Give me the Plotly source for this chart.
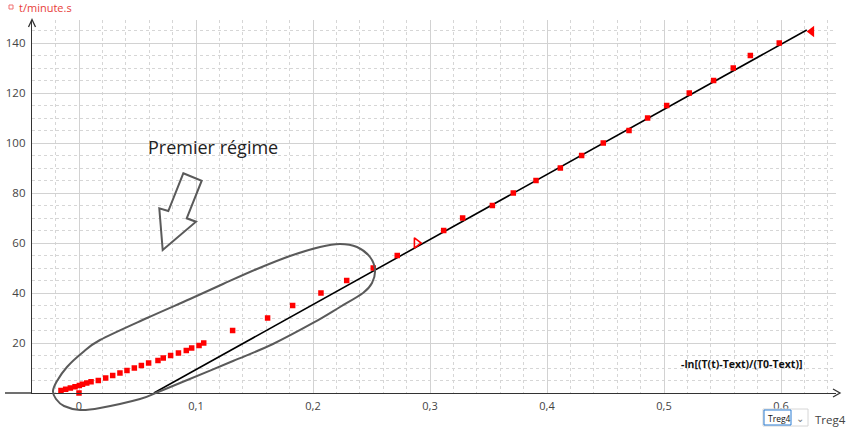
import plotly.graph_objects as go

# ---------------- data ----------------
# first regime (small steps)
x_first = [-0.0154, -0.0114, -0.0074, -0.0034, 0.0003, 0.0030, 0.0066, 0.0103, 0.0165,
           0.0228, 0.0288, 0.0350, 0.0410, 0.0473, 0.0533, 0.0595, 0.0675, 0.0720,
           0.0783, 0.0850, 0.0917, 0.0963, 0.1026, 0.1066]
t_first = [1, 1.5, 2, 2.5, 3, 3.5, 4, 4.5, 5, 6, 7, 8, 9, 10, 11, 12, 13, 14, 15, 16,
           17, 18, 19, 20]
x_origin = [0.0]
t_origin = [0.0]
# second regime
x_second = [0.1313, 0.1612, 0.1826, 0.2068, 0.2288, 0.2515, 0.2720, 0.3117, 0.3279,
            0.3533, 0.3712, 0.3906, 0.4114, 0.4296, 0.4481, 0.4701, 0.4860, 0.5023,
            0.5216, 0.5424, 0.5592, 0.5738, 0.5985]
t_second = [25, 30, 35, 40, 45, 50, 55, 65, 70, 75, 80, 85, 90, 95, 100, 105, 110, 115,
            120, 125, 130, 135, 140]
# cursor markers
x_cursor_a = [0.2886]
t_cursor_a = [60]
x_cursor_b = [0.6262]
t_cursor_b = [144.6]
# regression line
x_fit = [0.064, 0.622]
t_fit = [0.0, 145.2]

x_tick_vals = [0, 0.1, 0.2, 0.3, 0.4, 0.5, 0.6]
x_tick_text = ["0", "0,1", "0,2", "0,3", "0,4", "0,5", "0,6"]
y_tick_vals = [20, 40, 60, 80, 100, 120, 140]
y_tick_text = ["20", "40", "60", "80", "100", "120", "140"]

# ---------------- layout geometry ----------------
W, H = 848, 427
L, R, T, B = 32, 12, 20, 34
PW = W - L - R
PH = H - T - B


def px(xp):
    return (xp - L) / PW


def py(yp):
    return (H - B - yp) / PH


FONT = "Open Sans"
RED = "#ff0000"

fig = go.Figure()

fig.add_trace(go.Scatter(x=x_fit, y=t_fit, mode="lines",
                         line=dict(color="black", width=1.6),
                         hoverinfo="skip", showlegend=False))
for xs, ys in [(x_first, t_first), (x_origin, t_origin), (x_second, t_second)]:
    fig.add_trace(go.Scatter(x=xs, y=ys, mode="markers", cliponaxis=False,
                             marker=dict(symbol="square", size=5.5, color=RED,
                                         line=dict(width=0)),
                             showlegend=False))
fig.add_trace(go.Scatter(x=x_cursor_a, y=t_cursor_a, mode="markers", cliponaxis=False,
                         marker=dict(symbol="triangle-right-open", size=9, color=RED,
                                     line=dict(width=1.6, color=RED)),
                         showlegend=False))
fig.add_trace(go.Scatter(x=x_cursor_b, y=t_cursor_b, mode="markers", cliponaxis=False,
                         marker=dict(symbol="triangle-left", size=10, color=RED,
                                     line=dict(width=0)),
                         showlegend=False))

# ---------------- shapes ----------------
shapes = []

# ellipse (hand drawn) via Catmull-Rom
ell = [(53, 391), (57, 381), (67, 367), (82, 353), (100, 340), (147, 318),
       (190, 299), (223, 284), (257, 269), (290, 256), (320, 247), (340, 244), (357, 247),
       (370, 257), (375, 270), (372, 283), (363, 293), (340, 307), (313, 323), (273, 344),
       (233, 361), (180, 383), (158, 392), (140, 399), (100, 408), (80, 410), (64, 406),
       (56, 399)]
n = len(ell)
pts = [(px(a), py(b)) for a, b in ell]
path = "M %.5f,%.5f" % pts[0]
for i in range(n):
    p0 = pts[(i - 1) % n]
    p1 = pts[i]
    p2 = pts[(i + 1) % n]
    p3 = pts[(i + 2) % n]
    c1 = (p1[0] + (p2[0] - p0[0]) / 6, p1[1] + (p2[1] - p0[1]) / 6)
    c2 = (p2[0] - (p3[0] - p1[0]) / 6, p2[1] - (p3[1] - p1[1]) / 6)
    path += " C %.5f,%.5f %.5f,%.5f %.5f,%.5f" % (c1 + c2 + p2)
path += " Z"
shapes.append(dict(type="path", xref="paper", yref="paper", path=path,
                   line=dict(color="#5a5a5a", width=2)))

# block arrow
arr = [(183.3, 173.3), (201.7, 180.7), (186.7, 218.3), (196, 221.7), (162.7, 250),
       (159.3, 208.3), (168.3, 211)]
apath = "M " + " L ".join("%.5f,%.5f" % (px(a), py(b)) for a, b in arr) + " Z"
shapes.append(dict(type="path", xref="paper", yref="paper", path=apath,
                   line=dict(color="#5a5a5a", width=2)))

# x axis line extension to the left + axis arrows
shapes.append(dict(type="line", xref="paper", yref="paper", x0=px(5), x1=px(L),
                   y0=0, y1=0, line=dict(color="#333333", width=1.4)))
shapes.append(dict(type="path", xref="paper", yref="paper",
                   path="M %f,%f L %f,%f L %f,%f" % (px(28.5), py(27), px(32), py(19.5),
                                                     px(35.5), py(27)),
                   line=dict(color="#333333", width=1.3)))
shapes.append(dict(type="path", xref="paper", yref="paper",
                   path="M %f,%f L %f,%f L %f,%f" % (px(833), py(389), px(840), py(393),
                                                     px(833), py(397)),
                   line=dict(color="#333333", width=1.3)))

# legend icon
shapes.append(dict(type="rect", xref="paper", yref="paper", x0=px(9), x1=px(13),
                   y0=py(9), y1=py(5), line=dict(color="#f07070", width=1),
                   fillcolor="white"))

# dropdown widget
shapes.append(dict(type="rect", xref="paper", yref="paper", x0=px(763), x1=px(808),
                   y0=py(426), y1=py(409), line=dict(color="#d6d6d6", width=1),
                   fillcolor="white"))
shapes.append(dict(type="rect", xref="paper", yref="paper", x0=px(764), x1=px(791),
                   y0=py(425), y1=py(410), line=dict(color="#2b7cd3", width=1),
                   fillcolor="white"))

# ---------------- annotations ----------------
ann = []
ann.append(dict(xref="paper", yref="paper", x=px(17), y=py(8), xanchor="left",
                yanchor="middle", text="t/minute.s", showarrow=False,
                font=dict(family=FONT, size=11, color="#e8403a")))
ann.append(dict(xref="paper", yref="paper", x=px(146), y=py(147), xanchor="left",
                yanchor="middle", text="Premier régime", showarrow=False,
                font=dict(family=FONT, size=18, color="#222222")))
ann.append(dict(xref="paper", yref="paper", x=px(804), y=py(364), xanchor="right",
                yanchor="middle", text="<b>-ln[(T(t)-Text)/(T0-Text)]</b>",
                showarrow=False, font=dict(family=FONT, size=10.5, color="#111111")))
ann.append(dict(xref="paper", yref="paper", x=px(766), y=py(418), xanchor="left",
                yanchor="middle", text="Treg4", showarrow=False,
                font=dict(family=FONT, size=8.5, color="#111111")))
ann.append(dict(xref="paper", yref="paper", x=px(800), y=py(418), xanchor="center",
                yanchor="middle", text="⌄", showarrow=False,
                font=dict(family=FONT, size=10, color="#777777")))
ann.append(dict(xref="paper", yref="paper", x=px(813), y=py(419), xanchor="left",
                yanchor="middle", text="Treg4", showarrow=False,
                font=dict(family=FONT, size=11.5, color="#444444")))

fig.update_layout(
    width=W, height=H,
    margin=dict(l=L, r=R, t=T, b=B, autoexpand=False),
    paper_bgcolor="white", plot_bgcolor="white",
    showlegend=False,
    shapes=shapes, annotations=ann,
    font=dict(family=FONT, size=11, color="#444444"),
)
fig.update_xaxes(
    range=[(L - 79) / 1170, (W - R - 79) / 1170],
    tickmode="array", tickvals=x_tick_vals, ticktext=x_tick_text,
    showgrid=True, gridcolor="#d2d2d2", gridwidth=1.3,
    minor=dict(dtick=0.02, tick0=0, showgrid=True, gridcolor="#d6d6d6",
               griddash="3px,3px", gridwidth=1),
    showline=True, linecolor="#333333", linewidth=1.4,
    zeroline=False, ticks="", ticklabelstandoff=3,
    tickfont=dict(family=FONT, size=11, color="#444444"),
)
fig.update_yaxes(
    range=[0, PH / 2.5],
    tickmode="array", tickvals=y_tick_vals, ticktext=y_tick_text,
    showgrid=True, gridcolor="#d2d2d2", gridwidth=1.3,
    minor=dict(dtick=5, tick0=0, showgrid=True, gridcolor="#d6d6d6",
               griddash="3px,3px", gridwidth=1),
    showline=True, linecolor="#333333", linewidth=1.4,
    zeroline=False, ticks="", ticklabelstandoff=3,
    tickfont=dict(family=FONT, size=11.5, color="#444444"),
)

fig.write_html(
    "out.html",
    config={"displayModeBar": False},
    post_script="document.body.style.margin='0';document.body.style.overflow='hidden';",
)
